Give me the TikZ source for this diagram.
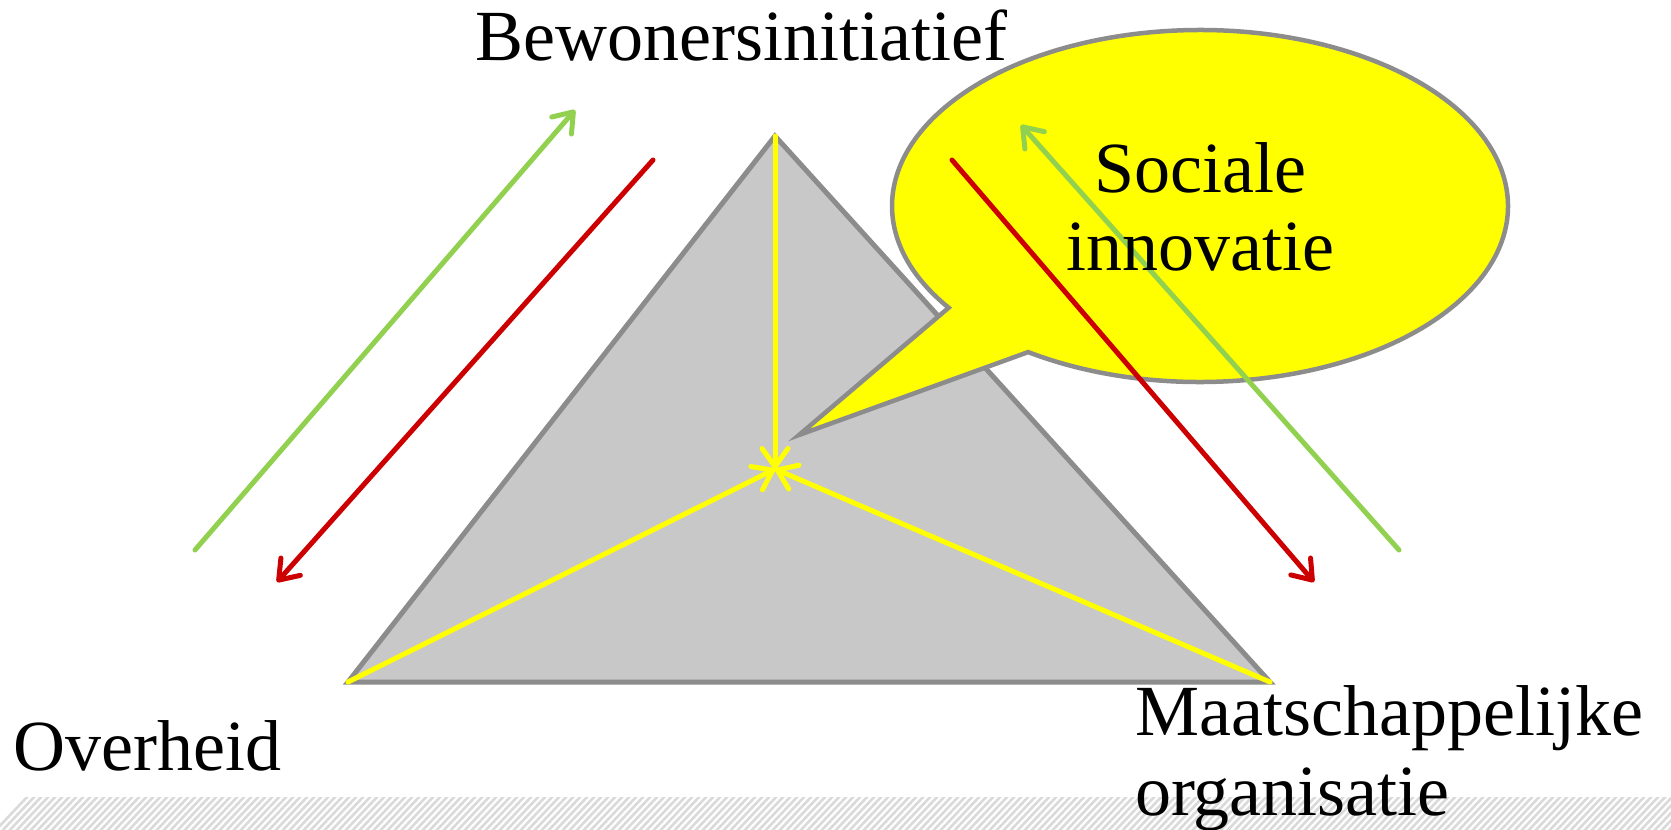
\documentclass[tikz,border=0pt]{standalone}
\usepackage{fontspec}
\setmainfont{Liberation Serif}
\usetikzlibrary{arrows.meta}
\definecolor{trifill}{RGB}{200,200,200}
\definecolor{edgegray}{RGB}{140,140,140}
\definecolor{ylw}{RGB}{255,255,0}
\definecolor{grn}{RGB}{146,208,80}
\definecolor{rd}{RGB}{204,0,0}
\definecolor{stripe}{RGB}{218,218,218}
\tikzset{
  label/.style={inner sep=0pt, font=\fontsize{72}{79}\selectfont},
  arr/.style={line width=5pt, line cap=round, line join=round,
    -{Straight Barb[length=18pt,width=26pt,round]}},
  yarr/.style={arr, draw=ylw},
  garr/.style={arr, draw=grn},
  rarr/.style={arr, draw=rd},
}
\begin{document}
\begin{tikzpicture}[x=1pt,y=-1pt]
\useasboundingbox (0,0) rectangle (1671,830);
% hatched band
\begin{scope}
  \clip (0,797) rectangle (1671,830);
  \foreach \i in {-6,1,...,1680} {
    \draw[stripe, line width=2.6pt] (\i,832) -- (\i+35,795);
  }
\end{scope}
% triangle
\coordinate (apex) at (775,136);
\coordinate (bl) at (348,682);
\coordinate (br) at (1270,682);
\coordinate (mid) at (775,469);
\draw[fill=trifill, draw=edgegray, line width=5pt, line join=miter] (apex) -- (bl) -- (br) -- cycle;
% yellow arrows
\draw[yarr] (apex) -- (mid);
\draw[yarr] (bl) -- (mid);
\draw[yarr] (br) -- (mid);
% callout
\coordinate (tailtip) at (799,435);
\draw[fill=ylw, draw=edgegray, line width=4.5pt, line join=miter]
  (1200,206) ++(123.9:308 and 176) arc[start angle=123.9, end angle=-215.3, x radius=308, y radius=176]
  -- (tailtip) -- cycle;
% green and red arrows
\coordinate (g1s) at (195,550); \coordinate (g1e) at (575,110);
\coordinate (g2s) at (1399,550); \coordinate (g2e) at (1021,125);
\coordinate (r1s) at (653,160); \coordinate (r1e) at (277,582);
\coordinate (r2s) at (952,160); \coordinate (r2e) at (1314,582);
\draw[garr] (g1s) -- (g1e);
\draw[garr] (g2s) -- (g2e);
\draw[rarr] (r1s) -- (r1e);
\draw[rarr] (r2s) -- (r2e);
% labels
\node[label, anchor=base] (bew) at (741,60) {Bewonersinitiatief};
\node[label, anchor=base] (soc1) at (1200,192) {Sociale};
\node[label, anchor=base] (soc2) at (1200,270) {innovatie};
\node[label, anchor=base west] (ovh) at (13,770) {Overheid};
\node[label, anchor=base west] (maat1) at (1135,735) {Maatschappelijke};
\node[label, anchor=base west] (maat2) at (1135,815) {organisatie};
\end{tikzpicture}
\end{document}
